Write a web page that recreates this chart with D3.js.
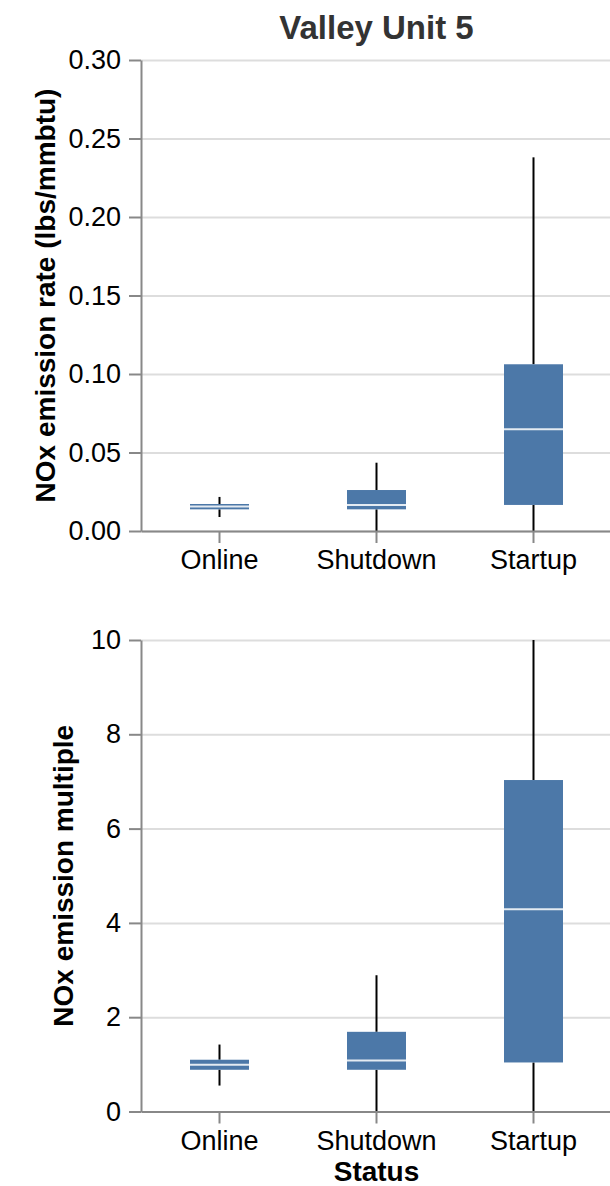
<!DOCTYPE html>
<html>
<head>
<meta charset="utf-8">
<script src="https://cdn.jsdelivr.net/npm/d3@7"></script>
<style>
  body { margin: 0; background: #fff; }
  svg { display: block; font-family: "Liberation Sans", Arial, sans-serif; }
  .axis .domain { stroke: #888; stroke-width: 2; }
  .axis .tick line { stroke: #888; stroke-width: 2; }
  .axis .tick text { fill: #000; font-size: 27px; }
  .grid .domain { display: none; }
  .grid .tick line { stroke: #ddd; stroke-width: 2; }
</style>
</head>
<body>
<div class="svg-container"></div>
<script>
// categories on the x axis
const statuses = ['Online', 'Shutdown', 'Startup'];

// NOx emission rate (lbs/mmbtu) - box stats per status
const rateMin    = [0.0089, 0.0, 0.0];
const rateQ1     = [0.0138, 0.0138, 0.0166];
const rateMedian = [0.0156, 0.0166, 0.0648];
const rateQ3     = [0.0172, 0.0261, 0.1062];
const rateMax    = [0.0217, 0.0435, 0.238];
const rateTicks  = [0, 0.05, 0.10, 0.15, 0.20, 0.25, 0.30];

// NOx emission multiple - box stats per status
const multMin    = [0.55, 0.0, 0.0];
const multQ1     = [0.885, 0.885, 1.04];
const multMedian = [0.99, 1.083, 4.29];
const multQ3     = [1.098, 1.69, 7.03];
const multMax    = [1.42, 2.89, 10.0];
const multTicks  = [0, 2, 4, 6, 8, 10];

const W = 610, H = 1186;
const left = 141, right = 612;
const boxColor = '#4c78a8';

const svg = d3.select('.svg-container')
  .append('svg')
  .attr('width', W)
  .attr('height', H);

// chart title
svg.append('text')
  .attr('x', (left + right) / 2)
  .attr('y', 39)
  .attr('text-anchor', 'middle')
  .attr('font-size', '33px')
  .attr('font-weight', 'bold')
  .attr('fill', '#333')
  .text('Valley Unit 5');

const xScale = d3.scaleBand()
  .domain(statuses)
  .range([left, right]);

function rows(mins, q1s, meds, q3s, maxs) {
  return statuses.map((s, i) => ({
    status: s, min: mins[i], q1: q1s[i], median: meds[i], q3: q3s[i], max: maxs[i]
  }));
}

function drawPanel(opts) {
  const { top, bottom, domain, ticks, fmt, title, titleX, data } = opts;

  const yScale = d3.scaleLinear().domain(domain).range([bottom, top]);

  const g = svg.append('g');

  //grid
  g.append('g')
    .attr('class', 'grid')
    .attr('transform', `translate(${left},0)`)
    .call(d3.axisLeft(yScale).tickValues(ticks).tickSize(-(right - left)).tickFormat(''));

  //whiskers
  const boxW = 59;
  const cx = d => xScale(d.status) + xScale.bandwidth() / 2;

  g.selectAll('.whisker-lo')
    .data(data)
    .enter()
    .append('line')
    .attr('x1', cx).attr('x2', cx)
    .attr('y1', d => yScale(d.min))
    .attr('y2', d => yScale(d.q1))
    .attr('stroke', '#000')
    .attr('stroke-width', 2);

  g.selectAll('.whisker-hi')
    .data(data)
    .enter()
    .append('line')
    .attr('x1', cx).attr('x2', cx)
    .attr('y1', d => yScale(d.q3))
    .attr('y2', d => yScale(d.max))
    .attr('stroke', '#000')
    .attr('stroke-width', 2);

  //boxes
  g.selectAll('.box')
    .data(data)
    .enter()
    .append('rect')
    .attr('x', d => cx(d) - boxW / 2)
    .attr('width', boxW)
    .attr('y', d => yScale(d.q3))
    .attr('height', d => yScale(d.q1) - yScale(d.q3))
    .attr('fill', boxColor);

  //medians
  g.selectAll('.median')
    .data(data)
    .enter()
    .append('line')
    .attr('x1', d => cx(d) - boxW / 2)
    .attr('x2', d => cx(d) + boxW / 2)
    .attr('y1', d => yScale(d.median))
    .attr('y2', d => yScale(d.median))
    .attr('stroke', '#fff')
    .attr('stroke-opacity', 0.85)
    .attr('stroke-width', 2);

  //axes
  g.append('g')
    .attr('class', 'axis')
    .attr('transform', `translate(${left},0)`)
    .call(d3.axisLeft(yScale).tickValues(ticks).tickFormat(fmt).tickSize(12).tickPadding(8).tickSizeOuter(0));

  g.append('g')
    .attr('class', 'axis')
    .attr('transform', `translate(0,${bottom})`)
    .call(d3.axisBottom(xScale).tickSize(12).tickPadding(7).tickSizeOuter(0));

  //y title
  g.append('text')
    .attr('transform', `translate(${titleX},${(top + bottom) / 2}) rotate(-90)`)
    .attr('text-anchor', 'middle')
    .attr('font-size', '28px')
    .attr('font-weight', 'bold')
    .attr('fill', '#000')
    .text(title);
}

drawPanel({
  top: 60, bottom: 531,
  domain: [0, 0.30],
  ticks: rateTicks,
  fmt: d3.format('.2f'),
  title: 'NOx emission rate (lbs/mmbtu)',
  titleX: 55,
  data: rows(rateMin, rateQ1, rateMedian, rateQ3, rateMax)
});

drawPanel({
  top: 640, bottom: 1111.5,
  domain: [0, 10],
  ticks: multTicks,
  fmt: d3.format('d'),
  title: 'NOx emission multiple',
  titleX: 73,
  data: rows(multMin, multQ1, multMedian, multQ3, multMax)
});

// x title
svg.append('text')
  .attr('x', (left + right) / 2)
  .attr('y', 1181)
  .attr('text-anchor', 'middle')
  .attr('font-size', '28px')
  .attr('font-weight', 'bold')
  .attr('fill', '#000')
  .text('Status');
</script>
</body>
</html>
